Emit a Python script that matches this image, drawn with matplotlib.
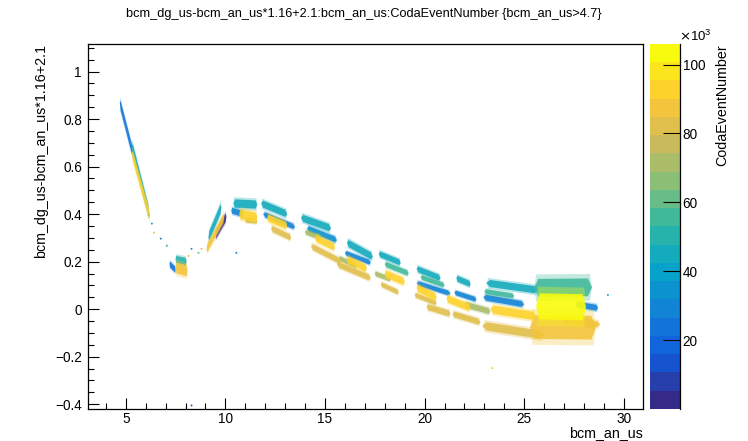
import numpy as np
import matplotlib
matplotlib.use("Agg")
import matplotlib.pyplot as plt
from matplotlib.colors import LinearSegmentedColormap, ListedColormap, BoundaryNorm
from matplotlib.cm import ScalarMappable
from matplotlib.ticker import MultipleLocator

plt.rcParams["font.family"] = ["Liberation Sans", "DejaVu Sans"]

TITLE = "bcm_dg_us-bcm_an_us*1.16+2.1:bcm_an_us:CodaEventNumber {bcm_an_us>4.7}"
XLABEL = "bcm_an_us"
YLABEL = "bcm_dg_us-bcm_an_us*1.16+2.1"
ZLABEL = "CodaEventNumber"

# point clouds: start/end (x, y), y-spread, event number
STREAK_X0 = [4.70, 5.30, 5.30, 7.50, 7.20, 7.50, 9.15, 9.05, 9.50, 10.40, 10.30, 10.70, 11.00,
             11.80, 11.90, 12.10, 12.30, 13.80, 14.10, 14.00, 14.50, 14.30,
             16.10, 16.00, 16.10, 15.70, 15.60, 17.70, 18.00, 18.00, 17.50, 17.80,
             19.60, 21.60, 19.80, 19.60, 19.60, 19.50, 21.10, 21.50, 20.10, 21.40, 22.00,
             23.10, 23.00, 22.95, 23.30, 22.90, 25.50, 27.60, 25.30, 27.00, 25.60]
STREAK_Y0 = [0.870, 0.690, 0.660, 0.210, 0.190, 0.175, 0.300, 0.250, 0.310, 0.445, 0.415, 0.400, 0.375,
             0.445, 0.400, 0.385, 0.340, 0.385, 0.340, 0.325, 0.300, 0.265,
             0.280, 0.237, 0.210, 0.215, 0.190, 0.233, 0.190, 0.150, 0.150, 0.105,
             0.170, 0.130, 0.135, 0.110, 0.090, 0.060, 0.045, 0.070, 0.010, -0.020, 0.020,
             0.110, 0.075, 0.050, 0.000, -0.070, 0.090, 0.020, -0.075, -0.045, 0.012]
STREAK_X1 = [5.38, 6.18, 6.22, 8.05, 7.50, 8.10, 9.80, 9.95, 10.05, 11.60, 10.90, 11.60, 11.60,
             13.10, 13.50, 13.10, 13.30, 15.30, 15.60, 14.80, 15.50, 15.80,
             17.40, 17.30, 17.10, 16.60, 17.30, 18.80, 19.20, 19.00, 18.30, 18.70,
             20.80, 22.30, 21.00, 21.30, 20.60, 20.60, 22.30, 22.60, 21.30, 22.80, 23.30,
             25.70, 24.50, 25.00, 25.60, 26.00, 28.40, 28.70, 28.60, 28.80, 28.10]
STREAK_Y1 = [0.650, 0.400, 0.385, 0.200, 0.165, 0.160, 0.430, 0.390, 0.390, 0.440, 0.400, 0.385, 0.370,
             0.400, 0.345, 0.350, 0.300, 0.340, 0.290, 0.300, 0.260, 0.200,
             0.220, 0.195, 0.170, 0.180, 0.130, 0.195, 0.150, 0.115, 0.125, 0.070,
             0.130, 0.105, 0.100, 0.065, 0.050, 0.025, 0.005, 0.040, -0.020, -0.055, -0.010,
             0.080, 0.055, 0.020, -0.030, -0.110, 0.092, 0.005, -0.078, -0.065, 0.008]
STREAK_H = [0.040, 0.045, 0.040, 0.030, 0.025, 0.045, 0.040, 0.035, 0.035, 0.035, 0.025, 0.040, 0.020,
            0.030, 0.022, 0.030, 0.025, 0.030, 0.025, 0.020, 0.030, 0.025,
            0.030, 0.020, 0.030, 0.020, 0.025, 0.025, 0.022, 0.030, 0.020, 0.020,
            0.025, 0.025, 0.020, 0.020, 0.030, 0.020, 0.030, 0.020, 0.025, 0.025, 0.025,
            0.030, 0.020, 0.025, 0.035, 0.035, 0.075, 0.025, 0.100, 0.025, 0.110]
STREAK_EVT = [22000, 45000, 92000, 48000, 25000, 90000, 45000, 90000, 2000, 45000, 28000, 92000, 78000,
              45000, 28000, 92000, 80000, 45000, 35000, 70000, 92000, 80000,
              45000, 28000, 92000, 70000, 80000, 45000, 58000, 92000, 70000, 80000,
              45000, 45000, 58000, 28000, 92000, 80000, 92000, 28000, 80000, 80000, 72000,
              45000, 58000, 30000, 92000, 80000, 55000, 30000, 86000, 90000, 104000]

# isolated points
DOT_X = [6.16, 6.31, 6.41, 6.76, 7.06, 8.15, 8.30, 8.65, 8.80, 10.55, 23.40, 8.30, 29.20]
DOT_Y = [0.394, 0.360, 0.322, 0.297, 0.267, 0.224, 0.254, 0.237, 0.254, 0.237, -0.248, -0.405, 0.060]
DOT_EVT = [70000, 40000, 85000, 30000, 50000, 88000, 35000, 60000, 80000, 30000, 85000, 20000, 45000]

CB_TICKS = [20000, 40000, 60000, 80000, 100000]
ZMAX = 106000
TAPER = 0.07

# ROOT kBird palette
bird_r = [0.2082, 0.0592, 0.0780, 0.0232, 0.1802, 0.5301, 0.8186, 0.9956, 0.9764]
bird_g = [0.1664, 0.3599, 0.5041, 0.6419, 0.7178, 0.7492, 0.7328, 0.7862, 0.9832]
bird_b = [0.5293, 0.8684, 0.8385, 0.7914, 0.6425, 0.4662, 0.3499, 0.1968, 0.0539]
bird = LinearSegmentedColormap.from_list("bird", list(zip(bird_r, bird_g, bird_b)))
cmap = ListedColormap([bird(i / 19) for i in range(20)])
norm = BoundaryNorm(np.linspace(0, ZMAX, 21), 20)


def streak(x0, y0, x1, y1, h, taper):
    xa, ya = x0 + taper * (x1 - x0), y0 + taper * (y1 - y0)
    xb, yb = x1 - taper * (x1 - x0), y1 - taper * (y1 - y0)
    return [x0, xa, xb, x1, xb, xa], [y0, ya - h, yb - h, y1, yb + h, ya + h]


fig = plt.figure(figsize=(7.48, 4.41), dpi=100)
ax = fig.add_axes([0.117, 0.0726, 0.7426, 0.8277])
cax = fig.add_axes([0.869, 0.0726, 0.040, 0.8277])

order = np.argsort(STREAK_EVT, kind="stable")
for i in order:
    x0, y0, x1, y1 = STREAK_X0[i], STREAK_Y0[i], STREAK_X1[i], STREAK_Y1[i]
    h = STREAK_H[i] / 2
    col = cmap(norm(STREAK_EVT[i]))
    # faint halo of sparse points, then the dense core
    xs, ys = streak(x0, y0, x1, y1, h * 1.5, TAPER * 0.5)
    ax.fill(xs, ys, color=col, lw=0, alpha=0.3)
    xs, ys = streak(x0, y0, x1, y1, h, TAPER)
    ax.fill(xs, ys, color=col, lw=0, alpha=0.88)
ax.scatter(DOT_X, DOT_Y, c=DOT_EVT, cmap=cmap, norm=norm, s=2, lw=0)

ax.set_xlim(3.08, 30.96)
ax.set_ylim(-0.42, 1.116)
ax.xaxis.set_major_locator(MultipleLocator(5))
ax.xaxis.set_minor_locator(MultipleLocator(1))
ax.yaxis.set_major_locator(MultipleLocator(0.2))
ax.yaxis.set_minor_locator(MultipleLocator(0.05))
ax.yaxis.set_major_formatter(plt.FuncFormatter(lambda v, p: "0" if abs(v) < 1e-9 else f"{v:g}".replace("-", "\u2212")))
ax.tick_params(which="major", direction="in", length=8, width=0.8, labelsize=9.8)
ax.tick_params(which="minor", direction="in", length=4, width=0.8)
ax.tick_params(axis="x", pad=2)
ax.tick_params(axis="y", pad=4)
for s in ax.spines.values():
    s.set_linewidth(0.9)

sm = ScalarMappable(norm=norm, cmap=cmap)
cb = fig.colorbar(sm, cax=cax, ticks=CB_TICKS)
cb.set_ticklabels([str(t // 1000) for t in CB_TICKS])
cb.outline.set_visible(False)
cax.plot([1, 1], [0, 1], transform=cax.transAxes, color="black", lw=0.9, clip_on=False)
cax.tick_params(direction="in", length=12, width=0.8, labelsize=9.8, right=True, left=False, pad=2)
cax.minorticks_off()

fig.text(0.487, 0.968, TITLE, ha="center", va="center", fontsize=9.2)
fig.text(0.8596, 0.002, XLABEL, ha="right", va="bottom", fontsize=10.3)
fig.text(0.055, 0.9, YLABEL, ha="center", va="top", rotation=90, fontsize=10.3)
fig.text(0.965, 0.9, ZLABEL, ha="center", va="top", rotation=90, fontsize=10.3)
fig.text(0.908, 0.918, r"$\times\mathregular{10^{3}}$", ha="left", va="center", fontsize=9.5)

fig.savefig("out.png", dpi=100)
